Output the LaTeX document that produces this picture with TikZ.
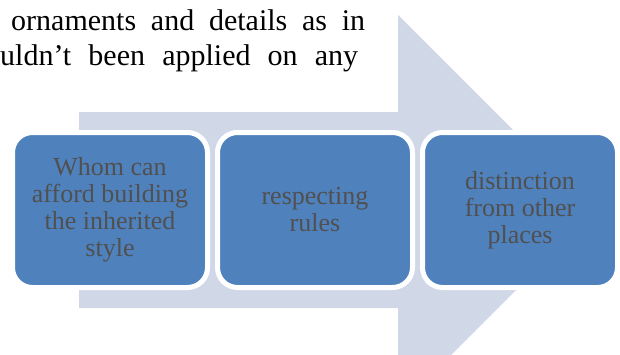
\documentclass[tikz,border=0pt]{standalone}
\usepackage{fontspec}
\setmainfont{Liberation Serif}
\usetikzlibrary{positioning}
\definecolor{boxblue}{HTML}{4F81BD}
\definecolor{arrowgray}{HTML}{D0D8E8}
\definecolor{textgray}{HTML}{505050}

\begin{document}
\begin{tikzpicture}[x=1pt, y=-1pt, stepnode/.style={rectangle, rounded corners=20pt, draw=white, fill=boxblue, line width=5pt, minimum width=195pt, minimum height=155pt, outer sep=0pt, align=center, text=textgray, font=\fontsize{26}{27}\selectfont}, textline/.style={anchor=base west, inner sep=0pt, font=\fontsize{30}{35}\selectfont}]

    \useasboundingbox (0,0) rectangle (620,354);
    \clip (0,0) rectangle (620,354);

    %Arrow
    \fill[arrowgray] (79,112) -- (398,112) -- (398,15) -- (594.5,211.5) -- (398,408) -- (398,308) -- (79,308) -- cycle;

    %Text
    \node[textline](line1) at (11,30){\hbox to 354pt{ornaments\hfil and\hfil details\hfil as\hfil in}};
    \node[textline](line2) at (0,65){\hbox to 358pt{uldn’t\hfil been\hfil applied\hfil on\hfil any}};

    %Nodes
    \node[stepnode](afford) at (110,210){Whom can\\afford building\\the inherited\\style};
    \node[stepnode](rules)[right=10pt of afford]{respecting\\rules};
    \node[stepnode](distinction)[right=10pt of rules]{distinction\\from other\\places};

\end{tikzpicture}
\end{document}
